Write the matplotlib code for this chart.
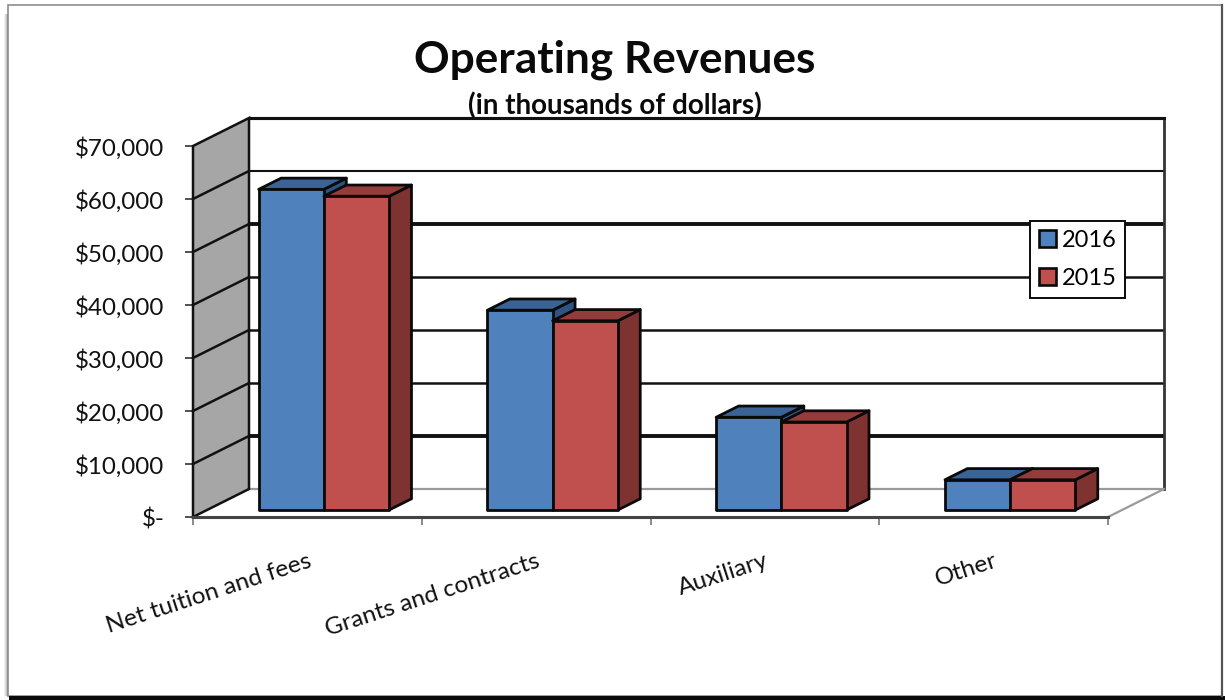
import matplotlib
matplotlib.use("Agg")
import matplotlib.pyplot as plt
from matplotlib.patches import Polygon, Patch, Rectangle
from matplotlib.transforms import ScaledTranslation

plt.rcParams["font.family"] = ["Lato", "DejaVu Sans"]

# revenue figures, in thousands of dollars
categories = ["Net tuition and fees", "Grants and contracts", "Auxiliary", "Other"]
rev_2016 = [60500, 37700, 17500, 5700]
rev_2015 = [59200, 35700, 16600, 5700]
y_ticks = [0, 10000, 20000, 30000, 40000, 50000, 60000, 70000]
y_labels = ["$-", "$10,000", "$20,000", "$30,000", "$40,000", "$50,000", "$60,000", "$70,000"]

BLUE = "#4f81bd"
BLUE_TOP = "#3a6396"
BLUE_SIDE = "#2f5484"
RED = "#c0504d"
RED_TOP = "#933c3a"
RED_SIDE = "#7f3331"
WALL = "#a6a6a6"

W, H = 1225, 700
fig = plt.figure(figsize=(W / 100, H / 100), dpi=100, facecolor="white")

# page frame with its drop shadow
bg = fig.add_axes([0, 0, 1, 1])
bg.set_xlim(0, W)
bg.set_ylim(H, 0)
bg.axis("off")
for i, c in enumerate(["#f0f0f0", "#dcdcdc", "#c4c4c4", "#a8a8a8"]):
    bg.add_patch(Rectangle((4 + i, 14), 1, 682, color=c, lw=0))
bg.add_patch(Rectangle((7.5, 5), 1214, 691, fc="white", ec="#8c8c8c", lw=1.2))
bg.add_patch(Rectangle((9, 695.5), W - 9, 5, color="#0a0a0a", lw=0))
bg.plot([1221.5, 1221.5], [5, 696], color="#555555", lw=1.6)

# the axes span the front plane of the 3D box
ax = fig.add_axes([193 / W, (H - 517) / H, 915 / W, 371 / H])
ax.set_xlim(0, 4)
ax.set_ylim(0, 70000)
ax.patch.set_alpha(0)
for s in ax.spines.values():
    s.set_visible(False)

# one full step of depth, in data units
DX = 56 / 915 * 4
DY = 28 / 371 * 70000


def pt(x, y, d=0.0):
    # project a data point back by depth fraction d
    return (x + DX * d, y + DY * d)


def poly(points, **kw):
    ax.add_patch(Polygon(points, closed=True, clip_on=False, **kw))


# back wall gridlines
grid_widths = [1.6, 2.8, 1.8, 1.8, 1.8, 2.8, 1.5, 2.2]
for t, lw in zip(y_ticks, grid_widths):
    if t == 0:
        continue
    ax.plot([pt(0, t, 1)[0], pt(4, t, 1)[0]], [pt(0, t, 1)[1]] * 2, color="#111111", lw=lw, clip_on=False,
            zorder=1, solid_capstyle="butt")
ax.plot([pt(0, 0, 1)[0], pt(4, 0, 1)[0]], [pt(0, 0, 1)[1]] * 2, color="#9a9a9a", lw=1.6, clip_on=False, zorder=1)
ax.plot([pt(4, 0, 1)[0]] * 2, [pt(4, 0, 1)[1], pt(4, 70000, 1)[1]], color="#333333", lw=2, clip_on=False, zorder=1)
ax.plot([pt(4, 0)[0], pt(4, 0, 1)[0]], [pt(4, 0)[1], pt(4, 0, 1)[1]], color="#9a9a9a", lw=1.6, clip_on=False, zorder=1)

# side wall
poly([pt(0, 0), pt(0, 0, 1), pt(0, 70000, 1), pt(0, 70000)], fc=WALL, ec="#111111", lw=1.8, zorder=2)
for t in y_ticks[1:-1]:
    ax.plot([pt(0, t)[0], pt(0, t, 1)[0]], [pt(0, t)[1], pt(0, t, 1)[1]], color="#111111", lw=1.8, clip_on=False,
            zorder=2)
ax.plot([pt(0, 70000, 1)[0], pt(4, 70000, 1)[0]], [pt(0, 70000, 1)[1]] * 2, color="#111111", lw=2.2, clip_on=False,
        zorder=2)
ax.plot([0, 4], [0, 0], color="#444444", lw=2.2, clip_on=False, zorder=2)

# 3D bars, drawn left to right so each one overlaps its neighbour's side
GAP = 0.226
BAR = 0.285
D0, D1 = 0.25, 0.65
for i in range(len(categories)):
    for j, (vals, front, top, side) in enumerate([(rev_2016, BLUE, BLUE_TOP, BLUE_SIDE),
                                                  (rev_2015, RED, RED_TOP, RED_SIDE)]):
        x0 = i + GAP + j * BAR
        x1 = x0 + BAR
        v = vals[i]
        kw = dict(ec="#0a0a0a", lw=2.0, joinstyle="round", zorder=3 + j)
        poly([pt(x1, 0, D0), pt(x1, 0, D1), pt(x1, v, D1), pt(x1, v, D0)], fc=side, **kw)
        poly([pt(x0, v, D0), pt(x0, v, D1), pt(x1, v, D1), pt(x1, v, D0)], fc=top, **kw)
        poly([pt(x0, 0, D0), pt(x1, 0, D0), pt(x1, v, D0), pt(x0, v, D0)], fc=front, **kw)

# axes ticks and labels, the y labels sit a little below their ticks
ax.set_yticks(y_ticks)
ax.set_yticklabels(y_labels, fontsize=17.4, color="#111111", va="center")
ax.tick_params(axis="y", length=5.5, width=1.2, color="#333333", pad=15)
nudge = ScaledTranslation(0, -2.5 / 100, fig.dpi_scale_trans)
for lab in ax.get_yticklabels():
    lab.set_transform(lab.get_transform() + nudge)
ax.set_xticks(range(5))
ax.set_xticklabels([])
ax.tick_params(axis="x", length=5.5, width=1.2, color="#777777")
ax.set_xticks([i + 0.5 for i in range(4)], minor=True)
ax.set_xticklabels(categories, minor=True, rotation=18, ha="right", va="top", rotation_mode="anchor",
                   fontsize=17.6, color="#111111")
ax.tick_params(axis="x", which="minor", length=0, pad=24)

# legend box
handles = [Patch(fc=BLUE, ec="#0a0a0a", lw=1.9, label="2016"), Patch(fc=RED, ec="#0a0a0a", lw=1.9, label="2015")]
leg = ax.legend(handles=handles, loc="upper left", bbox_to_anchor=(1030 / W, (H - 221) / H),
                bbox_transform=fig.transFigure, fontsize=17, frameon=True, fancybox=False, framealpha=1,
                edgecolor="#0a0a0a", borderaxespad=0, handlelength=0.7, handleheight=0.7, handletextpad=0.26,
                labelspacing=0.72, borderpad=0.38)
leg.get_frame().set_linewidth(1.4)
leg.set_zorder(10)

fig.text(615 / W, 1 - 60 / H, "Operating Revenues", fontsize=31.8, fontweight="bold", ha="center", va="center",
         color="#0a0a0a")
fig.text(615 / W, 1 - 106 / H, "(in thousands of dollars)", fontsize=20, fontweight="bold", ha="center", va="center",
         color="#0a0a0a")

fig.savefig("out.png", dpi=100)
